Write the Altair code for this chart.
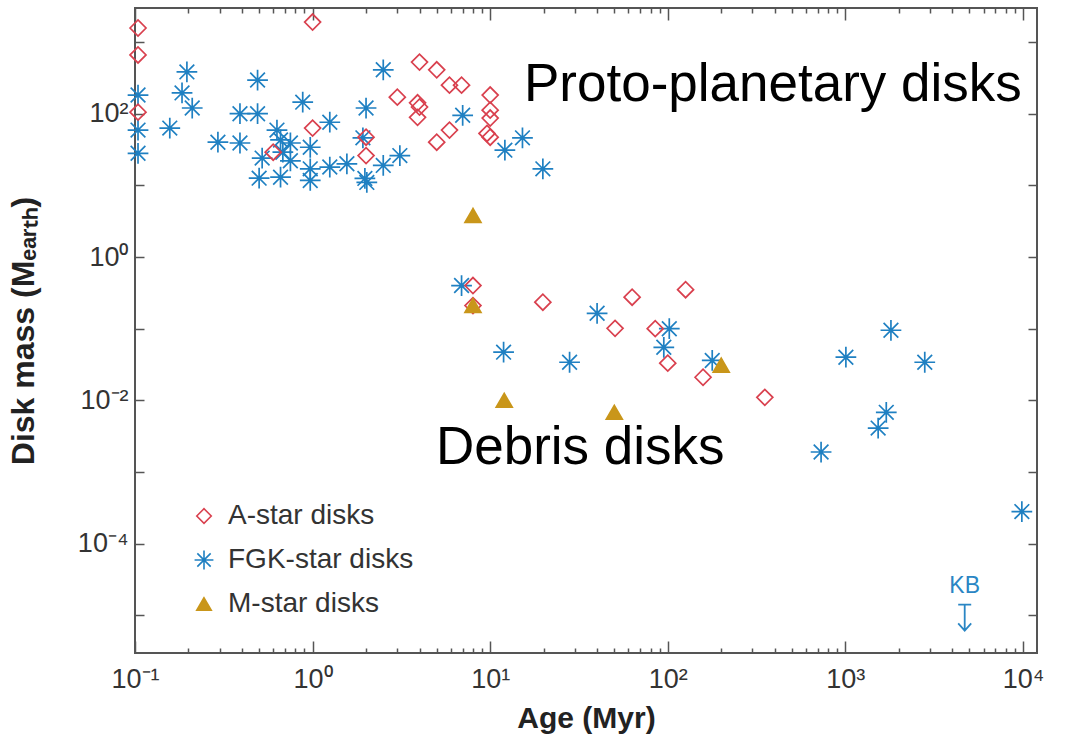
import altair as alt
import pandas as pd

# ---------------- data ----------------
types = ["A-star disks", "FGK-star disks", "M-star disks"]

a_age = [0.104, 0.104, 0.104, 1.0, 4.0, 5.0, 5.9, 6.9, 3.0, 3.9,
         4.0, 3.9, 10, 10, 10, 10, 9.6, 5.9, 5.0, 1.0,
         0.6, 2.0, 2.0, 8.0, 8.0, 19.8, 50.5, 63, 85, 100,
         126, 158, 352]
a_mass = [1570, 660, 105, 1900, 525, 410, 250, 250, 170, 142,
          124, 89, 182, 112, 87, 47, 53, 59, 40, 63,
          29, 47, 26, 0.40, 0.21, 0.234, 0.101, 0.275, 0.10, 0.033,
          0.35, 0.021, 0.011]

fgk_age = [0.104, 0.104, 0.104, 0.157, 0.184, 0.196, 0.21, 0.293, 0.39, 0.39,
           0.49, 0.49, 0.52, 0.5, 0.63, 0.66, 0.68, 0.75, 0.75, 0.66,
           0.88, 0.97, 0.97, 0.97, 1.25, 1.25, 1.56, 1.92, 2.0, 2.02,
           1.97, 2.5, 2.5, 3.1, 7.0, 12.1, 15.2, 19.8, 6.9, 11.9,
           28, 40, 95, 102, 178, 730, 1007, 1530, 1700, 1806,
           2800, 9860]
fgk_mass = [182, 59, 28, 63, 195, 383, 120, 40, 39, 100,
            100, 295, 24, 12.6, 59, 43, 29, 39, 22, 13,
            145, 34, 17, 11.7, 76, 18, 20, 46, 120, 11,
            12.5, 19, 410, 26, 95, 31, 46, 17, 0.40, 0.047,
            0.034, 0.164, 0.055, 0.10, 0.036, 0.0019, 0.040, 0.0041, 0.0068, 0.095,
            0.034, 2.8e-4]

m_age = [8.0, 8.0, 12, 50, 200]
m_mass = [3.8, 0.21, 0.0100, 0.0068, 0.031]

ann_text = ["Proto-planetary disks", "Debris disks"]
ann_age = [15.5, 4.95]
ann_mass = [150, 1.28e-3]

kb_label = ["KB"]
kb_age = [4700]
kb_label_mass = [2.6e-5]
kb_limit_mass = [9.3e-6]

x_tick_values = [0.1, 1, 10, 100, 1000, 10000]
x_tick_labels = ["10⁻¹", "10⁰", "10¹", "10²", "10³", "10⁴"]
x_minor_values = [k * d for d in [0.1, 1, 10, 100, 1000] for k in range(2, 10)]
y_tick_values = [1e-5, 1e-4, 1e-3, 1e-2, 1e-1, 1, 10, 100, 1000]
y_tick_labels = ["", "10⁻⁴", "", "10⁻²", "", "10⁰", "", "10²", ""]

# ---------------- build tables ----------------
df = pd.concat([
    pd.DataFrame({"age": fgk_age, "mass": fgk_mass, "type": types[1]}),
    pd.DataFrame({"age": a_age, "mass": a_mass, "type": types[0]}),
    pd.DataFrame({"age": m_age, "mass": m_mass, "type": types[2]}),
], ignore_index=True)
df_ann = pd.DataFrame({"age": ann_age, "mass": ann_mass, "text": ann_text})
df_kb = pd.DataFrame({"age": kb_age, "mass": kb_label_mass, "text": kb_label})
df_kb_lim = pd.DataFrame({"age": kb_age, "mass": kb_limit_mass})


def label_expr(values, labels):
    import math
    expr = "''"
    for v, lab in reversed(list(zip(values, labels))):
        e = round(math.log10(v))
        expr = f"(abs(log(datum.value)/LN10 - ({e})) < 0.01 ? '{lab}' : {expr})"
    return expr


FONT = "Liberation Sans"
AX = "#555555"
BLUE = "#2a86c4"
ASTERISK = "M-1.3,0L1.3,0M0,-1.3L0,1.3M-0.92,-0.92L0.92,0.92M-0.92,0.92L0.92,-0.92"
KB_PATH = "M-0.5,-1L0.5,-1M0,-1L0,1M-0.5,0.45L0,1L0.5,0.45"

x_scale = alt.Scale(type="log", domain=[0.1, 12000], nice=False)
y_scale = alt.Scale(type="log", domain=[2.98e-6, 2985], nice=False)

common_tick = dict(domain=False, grid=False, tickColor=AX, tickWidth=1.5)

x_axis_major = alt.Axis(
    orient="bottom", values=x_tick_values, labelExpr=label_expr(x_tick_values, x_tick_labels),
    offset=-12, tickSize=12, labelPadding=13, labelFont=FONT, labelFontSize=27,
    labelColor="#333333", labelFlush=False, labelOverlap=False,
    title="Age (Myr)", titleFont=FONT, titleFontSize=30, titleFontWeight="bold",
    titleColor="#222222", titlePadding=11, **common_tick)
x_axis_minor = alt.Axis(orient="bottom", values=x_minor_values, labels=False,
                        offset=-5, tickSize=5, title=None, **common_tick)
x_axis_top_major = alt.Axis(orient="top", values=x_tick_values, labels=False,
                            offset=-12, tickSize=12, title=None, **common_tick)
x_axis_top_minor = alt.Axis(orient="top", values=x_minor_values, labels=False,
                            offset=-5, tickSize=5, title=None, **common_tick)

y_axis_left = alt.Axis(
    orient="left", values=y_tick_values, labelExpr=label_expr(y_tick_values, y_tick_labels),
    offset=-9, tickSize=9, labelPadding=7, labelFont=FONT, labelFontSize=27,
    labelColor="#333333", labelFlush=False, labelOverlap=False,
    title="Disk mass (Mₑₐᵣₜₕ)", titleFont=FONT, titleFontSize=32, titleFontWeight="bold",
    titleColor="#222222", titlePadding=37, **common_tick)
y_axis_right = alt.Axis(orient="right", values=y_tick_values, labels=False,
                        offset=-9, tickSize=9, title=None, **common_tick)

legend = alt.Legend(title=None, orient="none", legendX=55, legendY=494,
                    labelFont=FONT, labelFontSize=28, labelColor="#333333", labelLimit=0,
                    symbolSize=210, symbolStrokeWidth=1.6, rowPadding=16,
                    labelOffset=10, padding=0)

points = alt.Chart(df).mark_point(size=255, strokeWidth=1.7, opacity=1, filled=False).encode(
    x=alt.X("age:Q", scale=x_scale, axis=x_axis_major),
    y=alt.Y("mass:Q", scale=y_scale, axis=y_axis_left),
    shape=alt.Shape("type:N", scale=alt.Scale(domain=types, range=["diamond", ASTERISK, "triangle-up"]), legend=legend),
    stroke=alt.Stroke("type:N", scale=alt.Scale(domain=types, range=["#d9404e", "#1f80c2", "#c9961a"]), legend=legend),
    fill=alt.Fill("type:N", scale=alt.Scale(domain=types, range=["transparent", "transparent", "#c9961a"]), legend=legend),
)

ann = alt.Chart(df_ann).mark_text(align="left", baseline="alphabetic", font=FONT, fontSize=53, color="#000000").encode(
    x=alt.X("age:Q", scale=x_scale, axis=x_axis_minor),
    y=alt.Y("mass:Q", scale=y_scale, axis=y_axis_right),
    text="text:N",
)

kb_text = alt.Chart(df_kb).mark_text(align="center", baseline="middle", font=FONT, fontSize=23, color=BLUE).encode(
    x=alt.X("age:Q", scale=x_scale, axis=x_axis_top_major),
    y=alt.Y("mass:Q", scale=y_scale, axis=None),
    text="text:N",
)

kb_lim = alt.Chart(df_kb_lim).mark_point(shape=KB_PATH, size=676, filled=False, stroke=BLUE, strokeWidth=1.8, opacity=1).encode(
    x=alt.X("age:Q", scale=x_scale, axis=x_axis_top_minor),
    y=alt.Y("mass:Q", scale=y_scale, axis=None),
)

chart = alt.layer(points, ann, kb_text, kb_lim).resolve_axis(
    x="independent", y="independent"
).properties(
    width=902, height=645,
    autosize=alt.AutoSizeParams(type="none"),
    padding={"left": 135, "top": 8, "right": 28, "bottom": 89},
    background="white",
).configure_view(stroke=AX, strokeWidth=2)

chart.save("out.html", embed_options={"renderer": "svg", "actions": False})
